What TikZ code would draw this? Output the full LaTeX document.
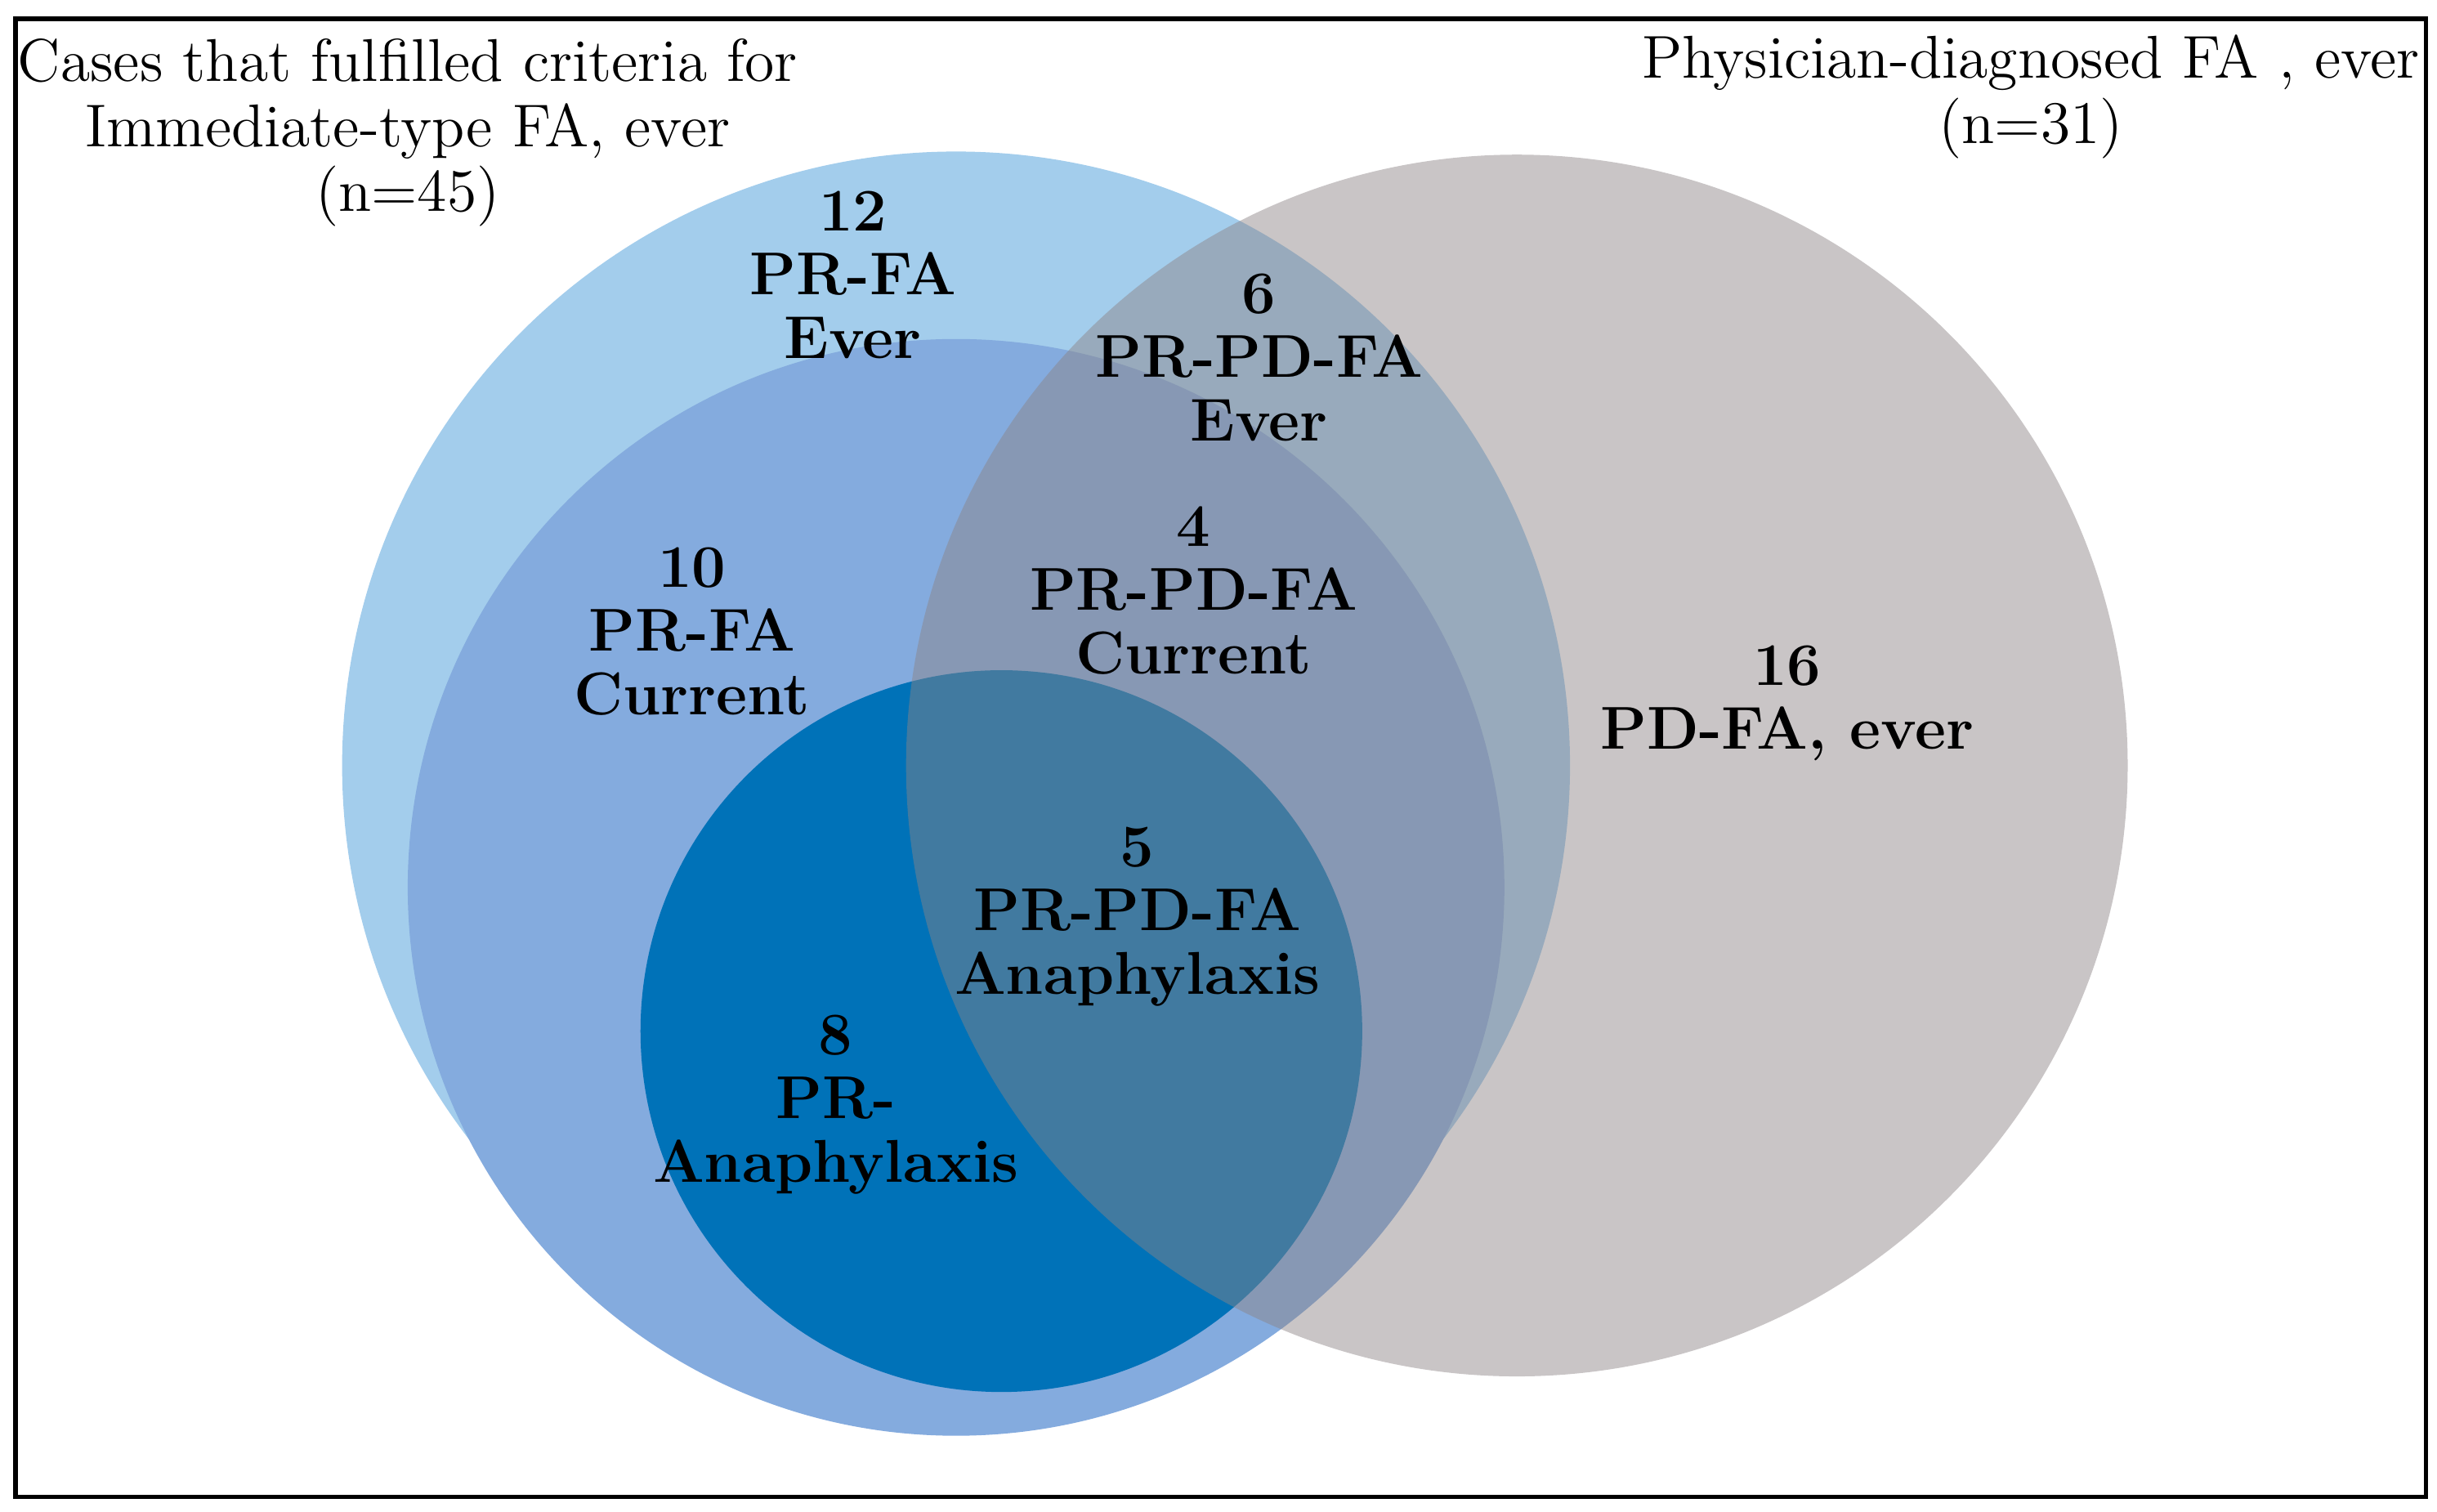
\documentclass[tikz,border=0pt]{standalone}
\begin{document}
\begin{tikzpicture}[x=0.01cm,y=-0.01cm,
  lbl/.style={align=center,font=\fontsize{11}{11.6}\selectfont\bfseries,inner sep=0pt},
  ttl/.style={align=center,font=\fontsize{11}{11.8}\selectfont,inner sep=0pt}]
\definecolor{lblue}{RGB}{163,205,236}
\definecolor{mblue}{RGB}{132,171,222}
\definecolor{dblue}{RGB}{0,114,184}
\definecolor{gr}{RGB}{140,132,134}
\useasboundingbox (0,0) rectangle (1560,967.5);
\draw[line width=0.8pt] (10,12) rectangle (1553,958);
\fill[lblue] (612,490) circle (393);
\fill[mblue] (612,568) circle (351);
\fill[dblue] (641,660) circle (231);
\fill[gr,opacity=0.47] (971,490) circle (391);
\node[lbl] (a) at (546,176) {12\\PR-FA\\Ever};
\node[lbl] (b) at (806,229) {6\\PR-PD-FA\\Ever};
\node[lbl] (c) at (443,404) {10\\PR-FA\\Current};
\node[lbl] (d) at (764,378) {4\\PR-PD-FA\\Current};
\node[lbl] (e) at (1144,450) {16\\PD-FA, ever};
\node[lbl] (f) at (728,587) {5\\PR-PD-FA\\Anaphylaxis};
\node[lbl] (g) at (535,707) {8\\PR-\\Anaphylaxis};
\node[ttl] (t1) at (261,85) {Cases that fulfilled criteria for\\Immediate-type FA, ever\\(n=45)};
\node[ttl] (t2) at (1300,62) {Physician-diagnosed FA , ever\\(n=31)};
\end{tikzpicture}
\end{document}
